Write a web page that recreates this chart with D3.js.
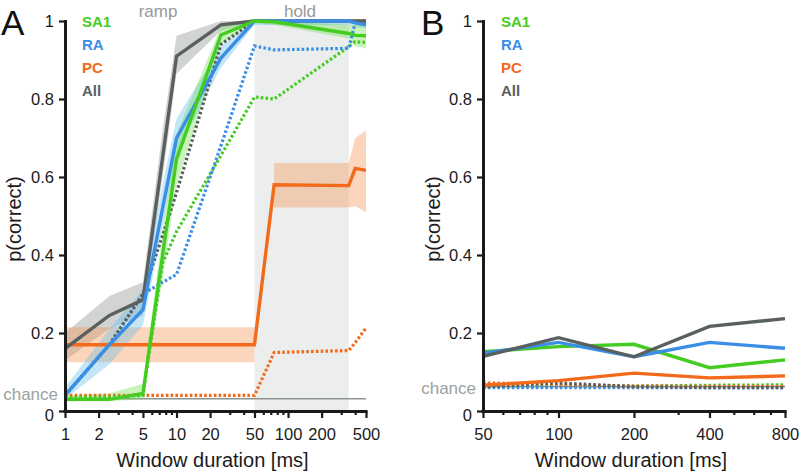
<!DOCTYPE html>
<html><head><meta charset="utf-8">
<script src="https://cdn.jsdelivr.net/npm/d3@7"></script>
<style>
body{margin:0;background:#fff;}
text{font-family:"Liberation Sans",Arial,sans-serif;}
</style></head>
<body><svg id="c" width="802" height="475"></svg>
<script>
// ---------- data ----------
const seriesNames = ["SA1","RA","PC","All"];
const seriesColors = {SA1:"#45cc22",RA:"#3a8ee6",PC:"#f26a1a",All:"#5a6060"};
const bandColors = {SA1:"#62dd3c",RA:"#56bbe8",PC:"#f68a40",All:"#7d8585"};

// Panel A (window duration, ms)
const durA = [1, 2.5, 5, 7.5, 10, 25, 50, 75, 350, 400, 500];
const sa1A   = [0.03, 0.03, 0.045, 0.40, 0.646, 0.964, 1.0, 0.998, 0.968, 0.963, 0.962];
const sa1ALo = [0.025,0.025,0.03, 0.34, 0.58, 0.94, 0.995, 0.99, 0.955, 0.935, 0.93];
const sa1AHi = [0.04, 0.045, 0.07, 0.46, 0.71, 0.985, 1.0, 1.0, 0.99, 0.99, 0.99];
const raA    = [0.04, 0.17, 0.26, 0.52, 0.70, 0.905, 1.0, 1.0, 1.0, 0.995, 0.99];
const raALo  = [0.03, 0.12, 0.22, 0.47, 0.66, 0.88, 0.99, 0.99, 0.99, 0.985, 0.98];
const raAHi  = [0.06, 0.21, 0.31, 0.58, 0.75, 0.935, 1.0, 1.0, 1.0, 1.0, 1.0];
const pcA    = [0.17, 0.17, 0.17, 0.17, 0.17, 0.17, 0.17, 0.58, 0.578, 0.622, 0.617];
const pcALo  = [0.125,0.125,0.125,0.125,0.125,0.125,0.125,0.522,0.522,0.525,0.51];
const pcAHi  = [0.215,0.215,0.215,0.215,0.215,0.215,0.215,0.636,0.636,0.70,0.72];
const allA   = [0.16, 0.245, 0.285, 0.65, 0.91, 0.99, 1.0, 1.0, 1.0, 1.0, 1.0];
const allALo = [0.13, 0.21, 0.245, 0.60, 0.865, 0.975, 1.0, 1.0, 1.0, 1.0, 1.0];
const allAHi = [0.20, 0.295, 0.33, 0.72, 0.962, 1.0, 1.0, 1.0, 1.0, 1.0, 1.0];
// dotted (shuffled / control) curves
const sa1ADot = [0.035, 0.035, 0.04, 0.38, 0.46, 0.655, 0.805, 0.80, 0.934, 0.947, 0.945];
const raADot  = [0.04, 0.17, 0.30, 0.33, 0.35, 0.68, 0.936, 0.926, 0.93, 0.995, 1.0];
const pcADot  = [0.04, 0.04, 0.04, 0.04, 0.04, 0.04, 0.04, 0.15, 0.155, 0.175, 0.213];
const allADot = [0.04, 0.17, 0.30, 0.45, 0.56, 0.94, 1.0, 1.0, 1.0, 1.0, 1.0];
const chanceA = 1/32;
const holdRange = [50, 350];
const xTicksA = [1,2,5,10,20,50,100,200,500];
const xMinorA = [3,4,6,7,8,9,30,40,60,70,80,90,300,400];

// Panel B
const durB = [50, 100, 200, 400, 800];
const sa1B = [0.152, 0.165, 0.171, 0.111, 0.131];
const raB  = [0.148, 0.176, 0.139, 0.176, 0.161];
const pcB  = [0.066, 0.078, 0.097, 0.085, 0.090];
const allB = [0.140, 0.188, 0.139, 0.217, 0.237];
const sa1BDot = [0.063, 0.065, 0.064, 0.066, 0.067];
const raBDot  = [0.060, 0.060, 0.060, 0.060, 0.060];
const pcBDot  = [0.072, 0.068, 0.064, 0.063, 0.063];
const allBDot = [0.062, 0.072, 0.062, 0.060, 0.060];
const chanceB = 1/16;
const xTicksB = [50,100,200,400,800];
const xMinorB = [60,70,80,90,300,500,600,700];

const yTicks = [0,0.2,0.4,0.6,0.8,1];

// ---------- drawing ----------
const svg = d3.select("#c");
const yTop = 21, yBot = 411;

function panel(opts){
  const g = svg.append("g");
  const x = d3.scaleLog().domain(opts.xDomain).range(opts.xRange);
  const y = d3.scaleLinear().domain([0,1]).range([yBot, yTop]);
  const x0 = opts.xRange[0], x1 = opts.xRange[1];

  if(opts.hold){
    g.append("rect").attr("x", x(opts.hold[0])).attr("y", y(1))
      .attr("width", x(opts.hold[1]) - x(opts.hold[0])).attr("height", y(0)-y(1))
      .attr("fill", "#eceeee");
  }
  // chance
  g.append("line").attr("x1", x0).attr("x2", x1).attr("y1", y(opts.chance)).attr("y2", y(opts.chance))
    .attr("stroke", "#8d9393").attr("stroke-width", 1.6);
  g.append("text").attr("x", x0-7).attr("y", y(opts.chance)+opts.chanceDy).attr("text-anchor","end")
    .attr("font-size", 17).attr("fill", "#9ba1a1").text("chance");

  // bands
  (opts.bands||[]).forEach(b=>{
    b.segments.forEach(seg=>{
      const idx = d3.range(seg[0], seg[1]+1);
      const area = d3.area().x(i=>x(opts.xs[i])).y0(i=>y(b.lo[i])).y1(i=>y(b.hi[i]));
      g.append("path").attr("d", area(idx)).attr("fill", bandColors[b.name]).attr("fill-opacity", 0.35);
    });
  });
  const line = d3.line().x((d,i)=>x(opts.xs[i])).y(d=>y(d));
  (opts.dotted||[]).forEach(s=>{
    g.append("path").attr("d", line(s.v)).attr("fill","none").attr("stroke", seriesColors[s.name])
      .attr("stroke-width", 3.2).attr("stroke-dasharray", "2.6,2.2");
  });
  (opts.solid||[]).forEach(s=>{
    g.append("path").attr("d", line(s.v)).attr("fill","none").attr("stroke", seriesColors[s.name])
      .attr("stroke-width", 3.4).attr("stroke-linejoin","miter");
  });

  // axes
  const ya = d3.axisLeft(y).tickValues(yTicks).tickFormat(d=>d3.format("~g")(d)).tickSize(6).tickSizeOuter(0);
  const yg = g.append("g").attr("transform", `translate(${x0},0)`).call(ya);
  const xa = d3.axisBottom(x).tickValues(opts.xTicks).tickFormat(d3.format("d")).tickSize(7).tickSizeOuter(0);
  const xg = g.append("g").attr("transform", `translate(0,${yBot})`).call(xa);
  const xm = d3.axisBottom(x).tickValues(opts.xMinor).tickFormat("").tickSize(4).tickSizeOuter(0);
  const xmg = g.append("g").attr("transform", `translate(0,${yBot})`).call(xm);
  xmg.select(".domain").remove();
  [yg,xg,xmg].forEach(a=>{
    a.selectAll("path.domain").attr("stroke","#1a1a1a").attr("stroke-width",3);
    a.selectAll(".tick line").attr("stroke","#1a1a1a").attr("stroke-width",2.2);
    a.selectAll("text").attr("font-size",16.5).attr("fill","#1a1a1a").attr("font-family","Liberation Sans, Arial, sans-serif");
  });
  xg.select("path.domain").attr("d", `M${x0-1.5},0.5H${x1+1.5}`);
  yg.select("path.domain").attr("d", `M0.5,${yTop-1}V${yBot+1.5}`);
  yg.selectAll(".tick text").attr("x",-11).attr("dy","0.35em");
  yg.selectAll(".tick text").filter(d=>d===0).attr("dy","0.55em");
  xg.selectAll(".tick text").attr("y",17).attr("dy","0.71em");

  // titles
  g.append("text").attr("x", (x0+x1)/2 - 3).attr("y", 467).attr("text-anchor","middle")
    .attr("font-size",20).attr("fill","#1a1a1a").text("Window duration [ms]");
  g.append("text").attr("transform", `translate(${opts.yTitleX},219) rotate(-90)`).attr("text-anchor","middle")
    .attr("font-size",20).attr("fill","#1a1a1a").text("p(correct)");
  g.append("text").attr("x", opts.letterX).attr("y", 35).attr("font-size",35).attr("fill","#111").text(opts.letter);

  // legend
  seriesNames.forEach((n,i)=>{
    g.append("text").attr("x", opts.legendX).attr("y", 26.7 + i*23.2).attr("font-size",15).attr("font-weight","bold")
      .attr("fill", seriesColors[n]).text(n);
  });
  return {x,y,g};
}

const A = panel({
  xDomain:[1,500], xRange:[65,366], xs:durA, chance:chanceA, chanceDy:1.5, hold:holdRange,
  xTicks:xTicksA, xMinor:xMinorA, yTitleX:21, letter:"A", letterX:1, legendX:82,
  bands:[
    {name:"All", lo:allALo, hi:allAHi, segments:[[0,10]]},
    {name:"PC", lo:pcALo, hi:pcAHi, segments:[[0,6],[7,8],[8,10]]},
    {name:"RA", lo:raALo, hi:raAHi, segments:[[0,10]]},
    {name:"SA1", lo:sa1ALo, hi:sa1AHi, segments:[[0,10]]}
  ],
  dotted:[{name:"PC",v:pcADot},{name:"SA1",v:sa1ADot},{name:"RA",v:raADot},{name:"All",v:allADot}],
  solid:[{name:"PC",v:pcA},{name:"All",v:allA},{name:"RA",v:raA},{name:"SA1",v:sa1A}]
});
A.g.append("text").attr("x", 158).attr("y", 17).attr("text-anchor","middle").attr("font-size",17).attr("fill","#999").text("ramp");
A.g.append("text").attr("x", 300).attr("y", 17).attr("text-anchor","middle").attr("font-size",17).attr("fill","#999").text("hold");

panel({
  xDomain:[50,800], xRange:[483,785], xs:durB, chance:chanceB, chanceDy:7,
  xTicks:xTicksB, xMinor:xMinorB, yTitleX:440, letter:"B", letterX:421, legendX:501,
  dotted:[{name:"SA1",v:sa1BDot},{name:"RA",v:raBDot},{name:"PC",v:pcBDot},{name:"All",v:allBDot}],
  solid:[{name:"PC",v:pcB},{name:"SA1",v:sa1B},{name:"RA",v:raB},{name:"All",v:allB}]
});
</script></body></html>
